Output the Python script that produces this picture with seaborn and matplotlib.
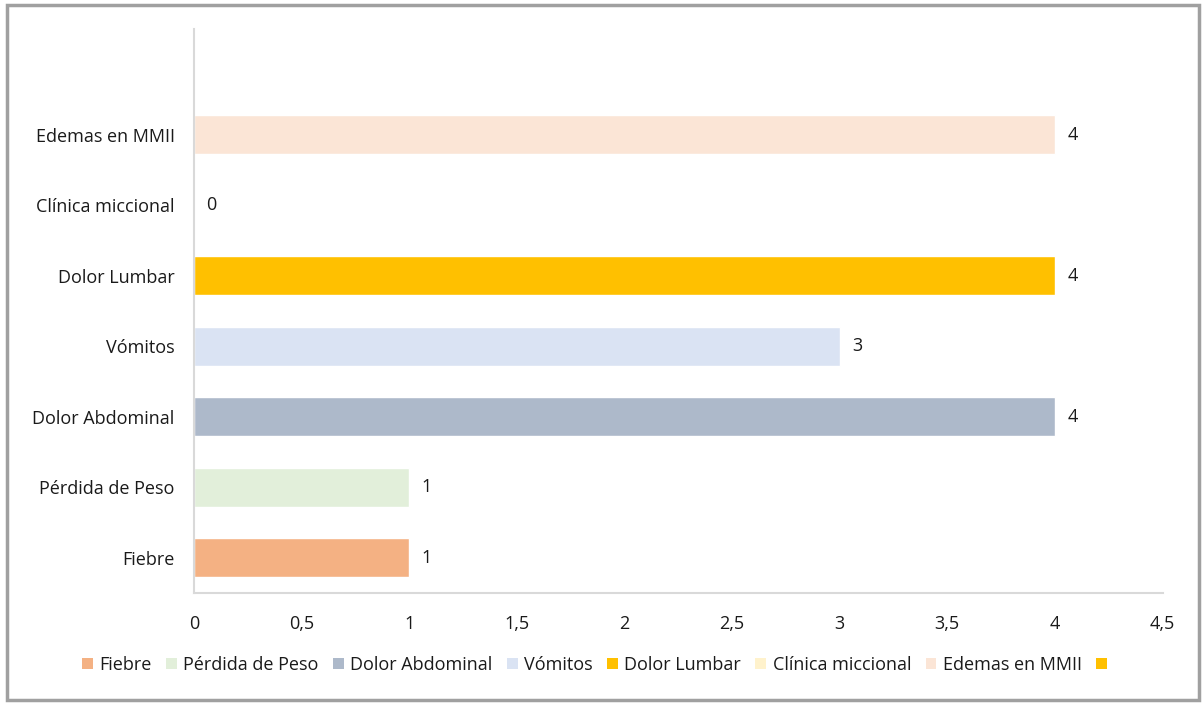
import numpy as np
import pandas as pd
import matplotlib.pyplot as plt
import matplotlib
import seaborn as sns
from matplotlib.patches import Patch, Rectangle

# categories top to bottom (the top one has no name in the source chart)
categories = [' ', 'Edemas en MMII', 'Clínica miccional', 'Dolor Lumbar', 'Vómitos',
              'Dolor Abdominal', 'Pérdida de Peso', 'Fiebre']
values = [np.nan, 4, 0, 4, 3, 4, 1, 1]
colors = ['#FFC000', '#FBE5D6', '#FFF2CC', '#FFC000', '#DAE3F3', '#ADB9CA', '#E2EFDA', '#F4B183']

legend_order = ['Fiebre', 'Pérdida de Peso', 'Dolor Abdominal', 'Vómitos', 'Dolor Lumbar',
                'Clínica miccional', 'Edemas en MMII', ' ']

xticks = [0, 0.5, 1, 1.5, 2, 2.5, 3, 3.5, 4, 4.5]
xticklabels = ['0', '0,5', '1', '1,5', '2', '2,5', '3', '3,5', '4', '4,5']

TEXT_COLOR = '#1A1A1A'
AXIS_COLOR = '#D9D9D9'
FS = 13

sns.set_style('white')
plt.rcParams['font.family'] = ['Open Sans', 'DejaVu Sans']

df = pd.DataFrame({'cat': categories, 'val': values})
palette = dict(zip(categories, colors))

fig = plt.figure(figsize=(12.03, 7.04), dpi=100)
ax = fig.add_axes([194 / 1203, 1 - 593 / 704, (1162.5 - 194) / 1203, (593 - 29) / 704])

sns.barplot(data=df, y='cat', x='val', hue='cat', order=categories, hue_order=categories,
            palette=palette, width=0.55, legend=False, ax=ax, orient='h', saturation=1)

# value labels
for i, (c, v) in enumerate(zip(categories, values)):
    if np.isnan(v):
        continue
    ax.annotate('%d' % v, (v, i), xytext=(9, 0), textcoords='offset points',
                va='center', ha='left', fontsize=FS, color=TEXT_COLOR)

ax.set_xlim(0, 4.5)
ax.set_ylim(7.5, -0.5)
ax.set_xticks(xticks)
ax.set_xticklabels(xticklabels)
ax.set_xlabel('')
ax.set_ylabel('')
ax.tick_params(axis='both', length=0, labelsize=FS, colors=TEXT_COLOR)
ax.tick_params(axis='x', pad=16)
ax.tick_params(axis='y', pad=14)

for s in ['top', 'right']:
    ax.spines[s].set_visible(False)
for s in ['left', 'bottom']:
    ax.spines[s].set_color(AXIS_COLOR)
    ax.spines[s].set_linewidth(1.5)

handles = [Patch(facecolor=palette[c], edgecolor='none', label=c) for c in legend_order]
fig.legend(handles=handles, loc='center', bbox_to_anchor=(600 / 1203, 1 - 665 / 704), ncol=8,
           frameon=False, fontsize=FS, handlelength=0.6, handleheight=0.6,
           handletextpad=0.35, columnspacing=0.8, labelcolor=TEXT_COLOR)

# grey frame around the whole picture
fig.patches.append(Rectangle((7 / 1203, 4 / 704), 1192 / 1203, 695 / 704, transform=fig.transFigure,
                             fill=False, edgecolor='#A0A0A0', linewidth=2.5))

fig.savefig('out.png', dpi=100)
